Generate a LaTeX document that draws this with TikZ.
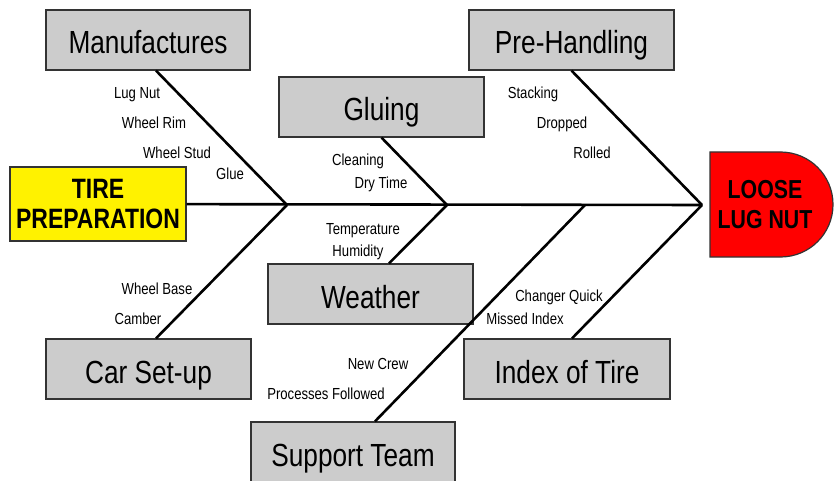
\documentclass[tikz,border=0pt]{standalone}
\usepackage{fontspec}
\setmainfont[FakeStretch=0.82]{Liberation Sans}
\usepackage{tikz}
\usetikzlibrary{calc}
\tikzset{every picture/.style={line width=2.6pt},
  catbox/.style={draw=black!80,line width=1.2pt,fill=gray!40,minimum width=205pt,minimum height=60pt,
    inner sep=0pt,text height=28pt,text depth=0pt,font=\fontsize{32}{36}\selectfont},
  cause/.style={inner sep=0pt,text height=12pt,text depth=0pt,font=\fontsize{16}{18}\selectfont},
  headbox/.style={draw=black!80,line width=1.2pt,align=center,font=\bfseries\fontsize{28}{30}\selectfont}}

\begin{document}
\begin{tikzpicture}[x=1pt,y=-1pt]
\clip (0,0) rectangle (835,481);

\node (tire) at (98,204) [headbox,fill=yellow,minimum width=176pt,minimum height=74pt,inner sep=0pt] {TIRE\\PREPARATION};
\draw [line width=1.2pt,draw=black!80,fill=red] (710,152) -- (780.5,152)
  .. controls (809.5,152) and (833,175.5) .. (833,204.5)
  .. controls (833,233.5) and (809.5,257) .. (780.5,257) -- (710,257) -- cycle;
\node (loose) at (765,205) [align=center,font=\bfseries\fontsize{26}{30}\selectfont] {LOOSE\\LUG NUT};

\coordinate (j1) at (287,205);
\coordinate (j2) at (447,205);
\coordinate (j3) at (585,205);
\coordinate (head) at (702,205);

\node (manuf) at (148,40) [catbox,minimum width=204pt] {Manufactures};
\node (preh) at (571.5,40) [catbox] {Pre-Handling};
\node (gluing) at (381.5,107) [catbox] {Gluing};
\node (weather) at (370.5,294) [catbox] {Weather};
\node (carset) at (148.5,369) [catbox] {Car Set-up};
\node (index) at (567,369) [catbox,minimum width=206pt] {Index of Tire};
\node (support) at (353,452) [catbox,minimum width=204pt] {Support Team};

\draw [-] (tire) -- (head);
\draw [-] ([xshift=8pt]manuf.south) -- (j1);
\draw [-] ([xshift=7.5pt]carset.north) -- (j1);
\draw [-] (gluing.south) -- (j2);
\draw [-] ([xshift=18.5pt]weather.north) -- (j2);
\draw [-] ([xshift=22pt]support.north) -- (j3);
\draw [-] (preh.south) -- (head);
\draw [-] ([xshift=5pt]index.north) -- (head);

\node (lugnut) at (137,93) [cause] {Lug Nut};
\node (rim) at (154,123) [cause] {Wheel Rim};
\node (stud) at (177,153) [cause] {Wheel Stud};
\node (glue) at (230,174) [cause] {Glue};
\node (clean) at (358,160) [cause] {Cleaning};
\node (dry) at (381,183) [cause] {Dry Time};
\node (temp) at (363,228) [cause] {Temperature};
\node (humid) at (358,250) [cause] {Humidity};
\node (stack) at (533,93) [cause] {Stacking};
\node (drop) at (562,123) [cause] {Dropped};
\node (roll) at (592,153) [cause] {Rolled};
\node (base) at (157,288) [cause] {Wheel Base};
\node (camber) at (138,318) [cause] {Camber};
\node (crew) at (378,363) [cause] {New Crew};
\node (proc) at (326,393) [cause] {Processes Followed};
\node (changer) at (559,295) [cause] {Changer Quick};
\node (missed) at (525,318) [cause] {Missed Index};
\end{tikzpicture}
\end{document}
